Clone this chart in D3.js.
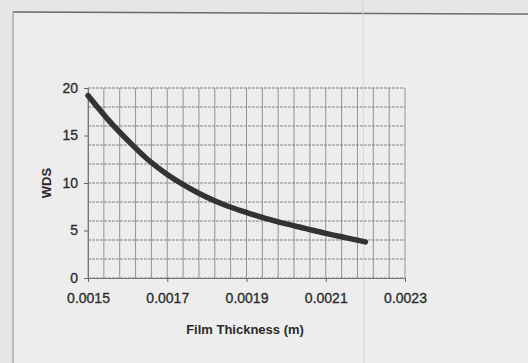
<!DOCTYPE html>
<html>
<head>
<meta charset="utf-8">
<script src="https://cdn.jsdelivr.net/npm/d3@7"></script>
<style>
  html, body { margin: 0; padding: 0; background: #e9e9e9; }
  svg { display: block; }
  text { font-family: "Liberation Sans", Arial, sans-serif; fill: #2a2a2a; }
</style>
</head>
<body>
<svg id="chart" width="528" height="363"></svg>
<script>
// Film thickness (m) and the corresponding WDS values
const thickness = [0.00150, 0.00155, 0.00160, 0.00165, 0.00170, 0.00175, 0.00180,
                   0.00185, 0.00190, 0.00195, 0.00200, 0.00205, 0.00210, 0.00215, 0.00220];
const wds = [19.2, 16.7, 14.5, 12.5, 10.9, 9.6, 8.5, 7.6, 6.9, 6.25, 5.7, 5.2, 4.7, 4.25, 3.8];

const xTicks = [0.0015, 0.0017, 0.0019, 0.0021, 0.0023];
const yTicks = [0, 5, 10, 15, 20];
const xGrid = d3.range(0, 21).map(i => 0.0015 + i * 0.00004);
const yGrid = d3.range(0, 11).map(i => i * 2);

const svg = d3.select("#chart");

// page and chart area
svg.append("rect").attr("x", 0).attr("y", 0).attr("width", 528).attr("height", 363).attr("fill", "#e6e6e6");
svg.append("rect").attr("x", 13).attr("y", 12).attr("width", 520).attr("height", 360)
  .attr("fill", "#ededed");
svg.append("line").attr("x1", 13).attr("x2", 528).attr("y1", 12).attr("y2", 14)
  .attr("stroke", "#6a6a6a").attr("stroke-width", 1.5);
svg.append("line").attr("x1", 13).attr("x2", 13).attr("y1", 12).attr("y2", 363)
  .attr("stroke", "#9a9a9a").attr("stroke-width", 1.2);
svg.append("line").attr("x1", 363).attr("x2", 364).attr("y1", 0).attr("y2", 363)
  .attr("stroke", "#d6d6d6").attr("stroke-width", 1);

const plotLeft = 88, plotRight = 405, plotTop = 88, plotBottom = 278;
const x = d3.scaleLinear().domain([0.0015, 0.0023]).range([plotLeft, plotRight]);
const y = d3.scaleLinear().domain([0, 20]).range([plotBottom, plotTop]);

// gridlines
const grid = svg.append("g");
grid.selectAll("line.v").data(xGrid).join("line").attr("class", "v")
  .attr("x1", d => x(d)).attr("x2", d => x(d))
  .attr("y1", plotTop).attr("y2", plotBottom)
  .attr("stroke", "#939393").attr("stroke-width", 1);
grid.selectAll("line.h").data(yGrid).join("line").attr("class", "h")
  .attr("x1", plotLeft).attr("x2", plotRight)
  .attr("y1", d => y(d)).attr("y2", d => y(d))
  .attr("stroke", "#858585").attr("stroke-width", 1)
  .attr("stroke-dasharray", "3,1");

// axes
const xAxis = d3.axisBottom(x).tickValues(xTicks).tickFormat(d3.format(".4f")).tickSize(4).tickPadding(11);
const yAxis = d3.axisLeft(y).tickValues(yTicks).tickFormat(d3.format("d")).tickSize(4).tickPadding(6);

const gx = svg.append("g").attr("transform", `translate(0,${plotBottom})`).call(xAxis);
const gy = svg.append("g").attr("transform", `translate(${plotLeft},0)`).call(yAxis);
[gx, gy].forEach(g => {
  g.select(".domain").attr("stroke", "#777");
  g.selectAll(".tick line").attr("stroke", "#666");
  g.selectAll(".tick text").attr("font-size", 14).attr("fill", "#2a2a2a")
    .attr("stroke", "#2a2a2a").attr("stroke-width", 0.3)
    .attr("font-family", "Liberation Sans, Arial, sans-serif");
});
gy.selectAll(".tick text").attr("dy", "0.3em");

// curve
const line = d3.line()
  .x((d, i) => x(thickness[i]))
  .y(d => y(d))
  .curve(d3.curveCatmullRom);
svg.append("path").datum(wds)
  .attr("d", line)
  .attr("fill", "none")
  .attr("stroke", "#333")
  .attr("stroke-width", 5.5)
  .attr("stroke-linecap", "round");

// axis titles
svg.append("text").attr("x", 245).attr("y", 334)
  .attr("text-anchor", "middle").attr("font-size", 13).attr("font-weight", "bold")
  .text("Film Thickness (m)");
svg.append("text").attr("transform", "translate(51,183) rotate(-90)")
  .attr("text-anchor", "middle").attr("font-size", 13).attr("font-weight", "bold")
  .text("WDS");
</script>
</body>
</html>
